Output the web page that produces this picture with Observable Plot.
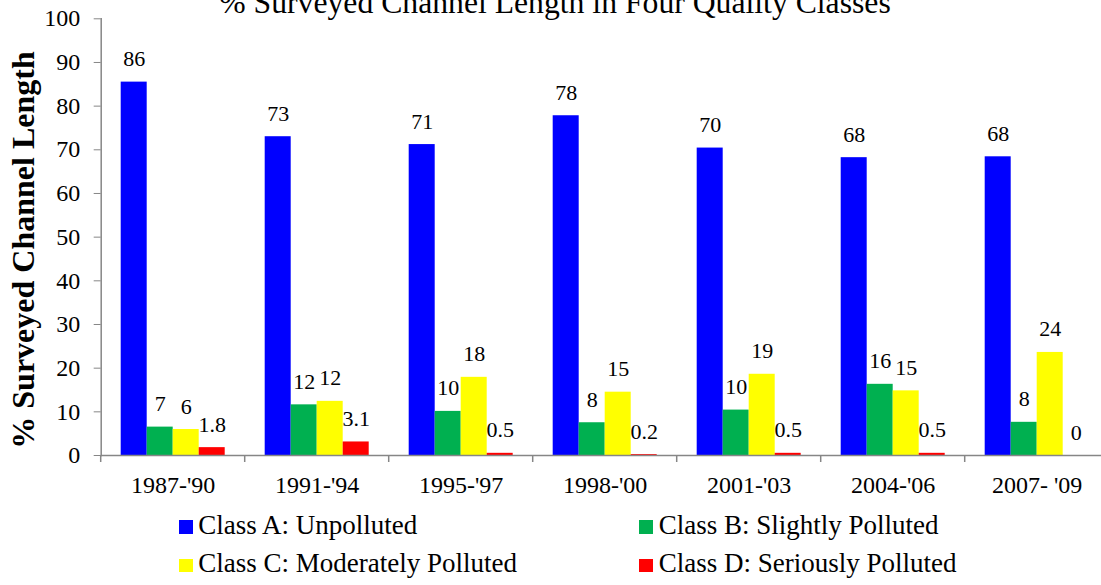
<!DOCTYPE html>
<html><head><meta charset="utf-8">
<script src="https://cdn.jsdelivr.net/npm/d3@7"></script>
<script src="https://cdn.jsdelivr.net/npm/@observablehq/plot@0.6"></script>
<style>
body{margin:0;background:#fff;}
#wrap{position:relative;width:1101px;height:585px;overflow:hidden;font-family:"Liberation Serif","Times New Roman",serif;color:#000;}
#legend{display:grid;grid-template-columns:460.4px 460.4px;margin-left:179px;padding-top:5.9px;font-size:27px;line-height:38.3px;}
.sw{display:inline-block;width:13.7px;height:13.7px;margin-right:5.6px;vertical-align:baseline;}
</style></head><body><div id="wrap"></div>
<script>
const periods = ["1987-'90", "1991-'94", "1995-'97", "1998-'00", "2001-'03", "2004-'06", "2007- '09"];
const classes = ["Class A: Unpolluted", "Class B: Slightly Polluted", "Class C: Moderately Polluted", "Class D: Seriously Polluted"];
const classColors = ["#0000FF", "#00B050", "#FFFF00", "#FF0000"];
const classA = [85.5, 73.0, 71.2, 77.8, 70.4, 68.2, 68.4];
const classB = [6.5, 11.6, 10.1, 7.5, 10.4, 16.3, 7.6];
const classC = [5.95, 12.4, 17.9, 14.5, 18.6, 14.8, 23.6];
const classD = [1.8, 3.1, 0.5, 0.2, 0.5, 0.5, 0];
const yTicks = [0, 10, 20, 30, 40, 50, 60, 70, 80, 90, 100];
const titleText = "% Surveyed Channel Length in Four Quality Classes";
const yLabelText = "% Surveyed Channel Length";

const series = [classA, classB, classC, classD];
const fmt = (v, j) => j === 3 ? (v === 0 ? "0" : v.toFixed(1)) : v.toFixed(0);
const data = periods.flatMap((p, i) => series.map((s, j) => ({period: p, cls: classes[j], value: s[i], label: fmt(s[i], j)})));

const grey = "#868686";
const chart = Plot.plot({
  width: 1101, height: 500,
  marginTop: 18.3, marginBottom: 45, marginLeft: 100.7, marginRight: -7.7,
  style: {fontFamily: "'Liberation Serif', 'Times New Roman', serif", background: "transparent", overflow: "visible", color: "#000"},
  fx: {domain: periods, padding: 0, round: false, label: null},
  x: {domain: classes, paddingInner: 0, paddingOuter: 0.769, round: false, axis: null},
  y: {domain: [0, 100]},
  color: {domain: classes, range: classColors},
  marks: [
    Plot.barY(data, {fx: "period", x: "cls", y: "value", fill: "cls"}),
    Plot.text(data, {fx: "period", x: "cls", y: "value", text: "label", dy: -16, lineAnchor: "bottom", fontSize: 22, fill: "#000"}),
    Plot.ruleY([0], {stroke: grey, strokeWidth: 1.5}),
    Plot.frame({anchor: "left", facetAnchor: "left", stroke: grey, strokeWidth: 1.5}),
    Plot.axisY({ticks: yTicks, tickSize: 7, tickPadding: 14, fontSize: 24, stroke: grey, fill: "#000", label: null, tickFormat: d => String(d)}),
    Plot.axisFx({anchor: "bottom", tickSize: 0, tickPadding: 20, fontSize: 24, fill: "#000", label: null})
  ]
});

const svg = d3.select(chart);
const fx = chart.scale("fx"), y = chart.scale("y");
const y0 = y.apply(0);
const bounds = periods.map(p => fx.apply(p));
bounds.push(fx.apply(periods[periods.length - 1]) + fx.step);
svg.append("g").selectAll("line").data(bounds).join("line")
  .attr("x1", d => d).attr("x2", d => d).attr("y1", y0).attr("y2", y0 + 7)
  .attr("stroke", grey).attr("stroke-width", 1.5);
svg.append("text").text(titleText)
  .attr("x", 555).attr("y", 13).attr("text-anchor", "middle")
  .attr("font-size", 31.7).attr("fill", "#000");
svg.append("text").text(yLabelText)
  .attr("transform", "translate(34,250) rotate(-90)").attr("text-anchor", "middle")
  .attr("font-size", 32).attr("font-weight", "bold").attr("fill", "#000");

const wrap = document.getElementById("wrap");
wrap.appendChild(chart);
const legend = d3.select(wrap).append("div").attr("id", "legend");
const items = legend.selectAll("div").data(classes).join("div");
items.append("span").attr("class", "sw").style("background", (d, i) => classColors[i]);
items.append("span").text(d => d);
</script></body></html>
